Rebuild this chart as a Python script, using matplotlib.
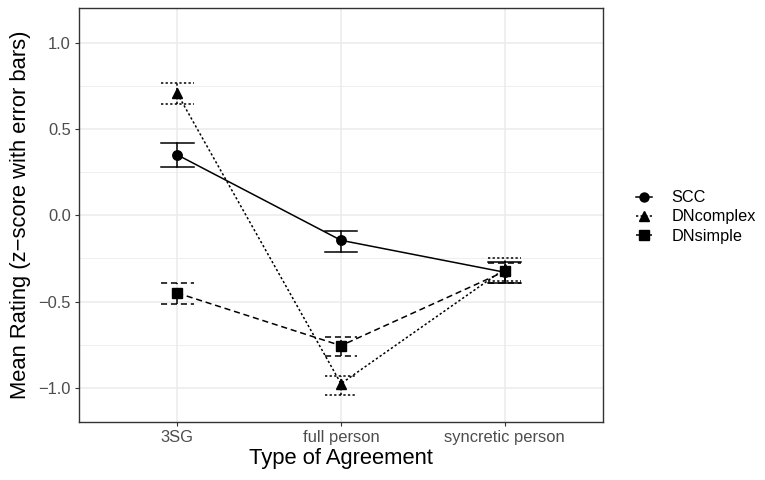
import matplotlib
matplotlib.use("Agg")
import matplotlib.pyplot as plt
from matplotlib.lines import Line2D

plt.rcParams['font.family'] = ['Liberation Sans', 'DejaVu Sans']

categories = ["3SG", "full person", "syncretic person"]
series = ["SCC", "DNcomplex", "DNsimple"]
means = {
    "SCC": [0.35, -0.145, -0.33],
    "DNcomplex": [0.705, -0.975, -0.31],
    "DNsimple": [-0.45, -0.755, -0.325],
}
lower = {
    "SCC": [0.28, -0.21, -0.39],
    "DNcomplex": [0.645, -1.04, -0.38],
    "DNsimple": [-0.515, -0.815, -0.395],
}
upper = {
    "SCC": [0.42, -0.09, -0.27],
    "DNcomplex": [0.765, -0.93, -0.245],
    "DNsimple": [-0.39, -0.705, -0.275],
}
markers = {"SCC": "o", "DNcomplex": "^", "DNsimple": "s"}
msizes = {"SCC": 6.8, "DNcomplex": 7.5, "DNsimple": 7.0}
styles = {"SCC": "-", "DNcomplex": (0, (1.5, 1.5)), "DNsimple": (0, (4, 2.5))}
yticks = [-1.0, -0.5, 0.0, 0.5, 1.0]
yminor = [-0.75, -0.25, 0.25, 0.75]

fig = plt.figure(figsize=(7.65, 4.8), dpi=100)
ax = fig.add_axes([79/765, 1-422/480, (603-79)/765, (422-8)/480])

x = list(range(1, len(categories) + 1))
lw = 1.1
cap = 0.1
for s in series:
    ax.plot(x, means[s], color="black", linestyle=styles[s], linewidth=lw,
            marker=markers[s], markersize=msizes[s], zorder=3)
    for xi, lo, hi in zip(x, lower[s], upper[s]):
        ax.plot([xi, xi], [lo, hi], color="black", linestyle=styles[s], linewidth=lw, zorder=2)
        ax.plot([xi - cap, xi + cap], [lo, lo], color="black", linestyle=styles[s], linewidth=lw, zorder=2)
        ax.plot([xi - cap, xi + cap], [hi, hi], color="black", linestyle=styles[s], linewidth=lw, zorder=2)

ax.set_xlim(0.4, 3.6)
ax.set_ylim(-1.197, 1.2)
ax.set_xticks(x)
ax.set_xticklabels(categories)
ax.set_yticks(yticks)
ax.set_yticklabels([f"{v:.1f}".replace("-", "\u2212") for v in yticks])
ax.set_yticks(yminor, minor=True)

ax.set_axisbelow(True)
ax.grid(which="major", color="#EBEBEB", linewidth=1.1)
ax.grid(which="minor", axis="y", color="#EBEBEB", linewidth=0.55)
ax.tick_params(which="minor", length=0)
ax.tick_params(which="major", length=3, color="#333333", width=0.8,
               labelsize=11.9, labelcolor="#4D4D4D", pad=3)
for sp in ax.spines.values():
    sp.set_color("#333333")
    sp.set_linewidth(1.0)

ax.set_xlabel("Type of Agreement", fontsize=15.8, labelpad=2)
ax.set_ylabel("Mean Rating (z\u2212score with error bars)", fontsize=15.8, labelpad=5)

handles = [Line2D([0], [0], color="black", linestyle=styles[s], linewidth=lw,
                  marker=markers[s], markersize=msizes[s] * 0.95)
           for s in series]
fig.legend(handles, series, loc="center left", bbox_to_anchor=(636/765, 1-217/480),
           frameon=False, fontsize=11.7, handlelength=1.0, handletextpad=1.2,
           labelspacing=0.25, borderpad=0, borderaxespad=0)

fig.savefig("out.png", dpi=100)
